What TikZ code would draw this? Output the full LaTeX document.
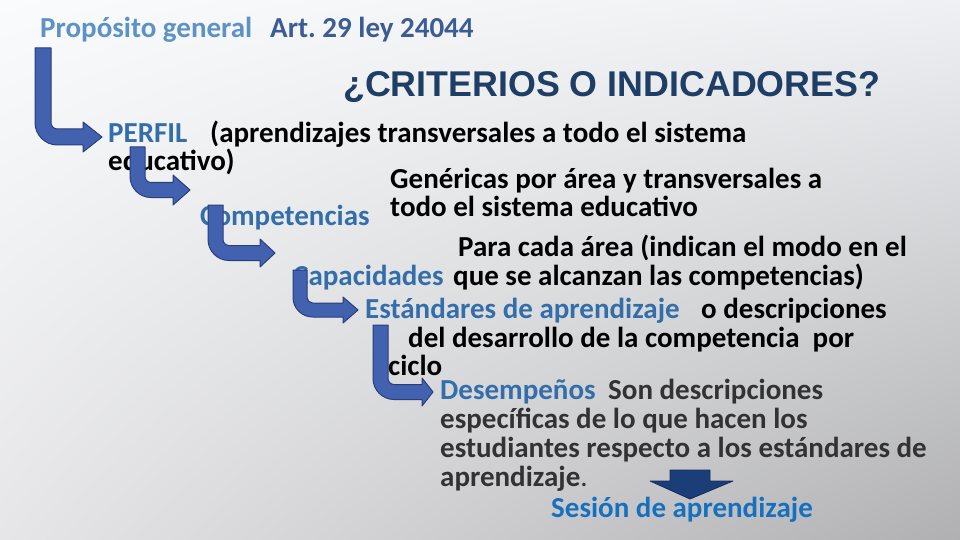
\documentclass[tikz,border=0pt]{standalone}
\usepackage{fontspec}
\usetikzlibrary{shadings}
\setmainfont{Carlito}
\newfontfamily\arialf{Liberation Sans}
\frenchspacing
\definecolor{ttlA}{RGB}{92,146,198}
\definecolor{ttlB}{RGB}{60,92,150}
\definecolor{headc}{RGB}{30,62,102}
\definecolor{lblue}{RGB}{52,110,170}
\definecolor{sblue}{RGB}{22,112,192}
\definecolor{dgray}{RGB}{50,50,50}
\definecolor{arrfill}{RGB}{66,98,176}
\definecolor{arrline}{RGB}{40,62,125}
\definecolor{navyf}{RGB}{28,62,120}
\definecolor{navyl}{RGB}{20,44,92}
\definecolor{bgUL}{RGB}{250,251,252}
\definecolor{bgUR}{RGB}{238,240,243}
\definecolor{bgLL}{RGB}{230,230,232}
\definecolor{bgLR}{RGB}{176,176,178}
\newcommand\bentarr[7]{%
  \pgfmathsetmacro\bxr{#1+#2}%
  \pgfmathsetmacro\bht{#4-#2/2}%
  \pgfmathsetmacro\bhb{#4+#2/2}%
  \pgfmathsetmacro\bri{0.4*#2}%
  \pgfmathsetmacro\bR{1.4*#2}%
  \filldraw[arrsty] (#1,#3) -- (\bxr,#3) -- (\bxr,{\bht-\bri})
    .. controls (\bxr,{\bht-0.45*\bri}) and ({\bxr+0.45*\bri},\bht) .. ({\bxr+\bri},\bht)
    -- (#5,\bht) -- (#5,{#4-#6}) -- (#7,#4) -- (#5,{#4+#6}) -- (#5,\bhb)
    -- ({#1+\bR},\bhb)
    .. controls ({#1+0.45*\bR},\bhb) and (#1,{\bhb-0.45*\bR}) .. (#1,{\bhb-\bR})
    -- cycle;}
\begin{document}
\begin{tikzpicture}[x=1pt,y=-1pt,
  txt/.style={anchor=base west,inner sep=0,font=\fontsize{29}{30}\selectfont\bfseries},
  ttl/.style={anchor=base west,inner sep=0,font=\fontsize{29}{30}\selectfont\bfseries},
  arrsty/.style={fill=arrfill,draw=arrline,line width=1pt,line join=round}]
\useasboundingbox (0,0) rectangle (960,540);
\shade[upper left=bgUL,upper right=bgUR,lower left=bgLL,lower right=bgLR]
  (0,0) rectangle (960,540);
% title
\node[ttl,text=ttlA] (prop) at (40,38) {Propósito general};
\node[ttl,text=ttlB] (art) at (270,38) {Art. 29 ley 24044};
\node[anchor=base west,inner sep=0,font=\arialf\fontsize{35.8}{38}\selectfont\bfseries,text=headc] (head) at (343,97) {¿CRITERIOS O INDICADORES?};
% body
\node[txt,text=lblue] (perfil) at (108,143) {PERFIL};
\node[txt] (perfD) at (210,143) {(aprendizajes transversales a todo el sistema};
\node[txt] (perfD2) at (108,171) {educativo)};
\node[txt] (gen1) at (390,188) {Genéricas por área y transversales a};
\node[txt] (gen2) at (390,216) {todo el sistema educativo};
\node[txt,text=lblue] (comp) at (200,225) {Competencias};
\node[txt] (para1) at (458,256) {Para cada área (indican el modo en el};
\node[txt,text=lblue] (capa) at (293,285) {Capacidades};
\node[txt] (para2) at (453,285) {que se alcanzan las competencias)};
\node[txt,text=lblue] (est) at (365,318) {Estándares de aprendizaje};
\node[txt] (estD) at (701,318) {o descripciones};
\node[txt] (estD2) at (408,347) {del desarrollo de la competencia\hspace{0.45em}por};
\node[txt,text=lblue] (desem) at (440,399) {Desempeños};
\node[txt,text=dgray] (desD) at (608,399) {Son descripciones};
\node[txt,text=dgray] (desD2) at (440,428) {específicas de lo que hacen los};
\node[txt,text=dgray] (desD3) at (440,457) {estudiantes respecto a los estándares de};
\node[txt,text=dgray] (desD4) at (440,486) {aprendizaje{\mdseries.}};
\node[txt,text=sblue] (sesion) at (551,517) {Sesión de aprendizaje};
% bent arrows
\bentarr{35}{16}{48}{137}{83}{15}{102}
\bentarr{130}{15}{147}{190}{173}{15}{190}
\bentarr{208}{15}{205}{253}{260}{14}{275}
\bentarr{293}{14}{270}{310}{343}{13}{358}
\bentarr{373}{15}{325}{392}{422}{14}{433}
\node[txt] (ciclo) at (388,375) {ciclo};
% down arrow
\filldraw[fill=navyf,draw=navyl,line width=0.8pt,line join=round]
  (670,470) -- (710,470) -- (710,481) -- (733,481) -- (690,499) -- (650,481) -- (670,481) -- cycle;
\end{tikzpicture}
\end{document}
